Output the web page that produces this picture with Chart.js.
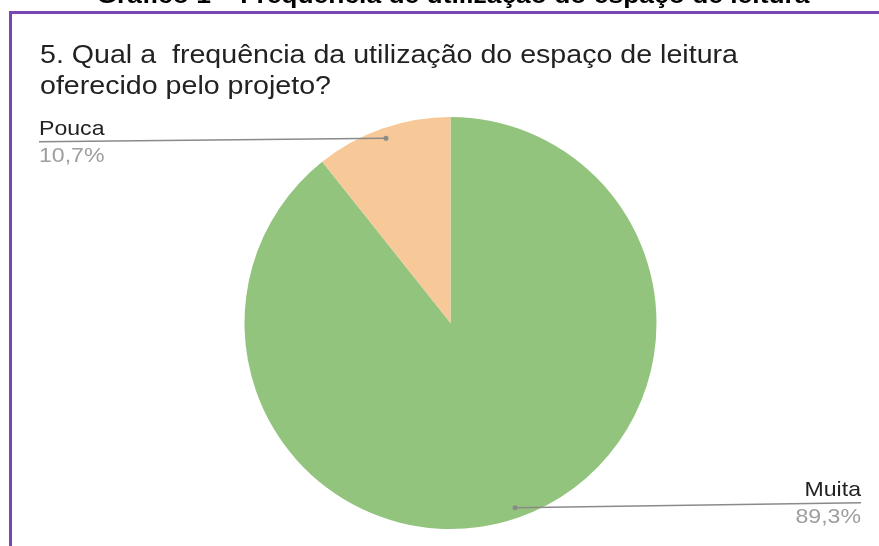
<!DOCTYPE html>
<html>
<head>
<meta charset="utf-8">
<script src="https://cdn.jsdelivr.net/npm/chart.js@4/dist/chart.umd.min.js"></script>
<style>
  html, body { margin: 0; padding: 0; background: #fff; }
  #chart { display: block; }
</style>
</head>
<body>
<canvas id="chart" width="879" height="546"></canvas>
<script>
// Survey answers (question 5)
const answerLabels = ["Muita", "Pouca"];
const answerShares = [89.3, 10.7];
const sliceColors = ["#93c47d", "#f7c898"];

const captionText = "Gráfico 1 – Frequência de utilização do espaço de leitura";
const questionLines = [
  "5. Qual a  frequência da utilização do espaço de leitura",
  "oferecido pelo projeto?"
];

const FONT = "'Liberation Sans', Arial, sans-serif";
const TEXT_STRETCH = 1.1; // glyphs are a bit wider than plain Arial

function formatShare(v) {
  return v.toFixed(1).replace(".", ",") + "%";
}

function wideText(ctx, text, x, y, align) {
  ctx.save();
  ctx.translate(x, y);
  ctx.scale(TEXT_STRETCH, 1);
  ctx.textAlign = align;
  ctx.fillText(text, 0, 0);
  ctx.restore();
}

// Frame, caption and question text, plus the leader-line labels
const decorPlugin = {
  id: "decor",
  beforeDraw(chart) {
    const ctx = chart.ctx;
    ctx.save();
    ctx.fillStyle = "#fff";
    ctx.fillRect(0, 0, chart.width, chart.height);
    ctx.textBaseline = "alphabetic";

    // caption above the frame (cut by the top edge)
    ctx.fillStyle = "#000";
    ctx.font = "bold 24px " + FONT;
    wideText(ctx, captionText, 453, 3, "center");

    // purple frame
    ctx.strokeStyle = "#7a46b4";
    ctx.lineWidth = 3;
    ctx.beginPath();
    ctx.moveTo(10.5, chart.height + 2);
    ctx.lineTo(10.5, 12.5);
    ctx.lineTo(chart.width + 2, 12.5);
    ctx.stroke();

    // question
    ctx.fillStyle = "#222";
    ctx.font = "26px " + FONT;
    questionLines.forEach((line, i) => {
      wideText(ctx, line, 40, 63 + i * 31, "left");
    });
    ctx.restore();
  },
  afterDraw(chart) {
    const ctx = chart.ctx;
    const meta = chart.getDatasetMeta(0);
    ctx.save();
    ctx.textBaseline = "alphabetic";
    meta.data.forEach((arc, i) => {
      const p = arc.getProps(["x", "y", "startAngle", "endAngle", "outerRadius"], true);
      const mid = (p.startAngle + p.endAngle) / 2;
      const dx = p.x + Math.cos(mid) * p.outerRadius * 0.95;
      const dy = p.y + Math.sin(mid) * p.outerRadius * 0.95;
      const left = Math.cos(mid) < 0;
      const endX = left ? 39 : 861;
      const lineY = left ? dy + 3.5 : dy - 5;

      ctx.strokeStyle = "#8a8a8a";
      ctx.lineWidth = 1.5;
      ctx.beginPath();
      ctx.moveTo(dx, dy);
      ctx.lineTo(endX, lineY);
      ctx.stroke();

      ctx.fillStyle = "#8a8a8a";
      ctx.beginPath();
      ctx.arc(dx, dy, 2.5, 0, Math.PI * 2);
      ctx.fill();

      const align = left ? "left" : "right";
      ctx.font = "21px " + FONT;
      ctx.fillStyle = "#222";
      wideText(ctx, answerLabels[i], endX, lineY - 7, align);
      ctx.fillStyle = "#9e9e9e";
      wideText(ctx, formatShare(answerShares[i]), endX, lineY + 20, align);
    });
    ctx.restore();
  }
};

new Chart(document.getElementById("chart"), {
  type: "pie",
  data: {
    labels: answerLabels,
    datasets: [{
      data: answerShares,
      backgroundColor: sliceColors,
      borderWidth: 0
    }]
  },
  options: {
    responsive: false,
    animation: false,
    layout: {
      padding: { left: 22, right: 0, top: 117, bottom: 17 }
    },
    plugins: {
      legend: { display: false },
      tooltip: { enabled: false }
    }
  },
  plugins: [decorPlugin]
});
</script>
</body>
</html>
